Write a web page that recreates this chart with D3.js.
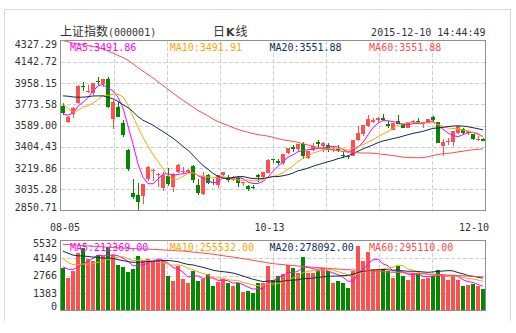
<!DOCTYPE html>
<html><head><meta charset="utf-8">
<script src="https://cdn.jsdelivr.net/npm/d3@7"></script>
<style>body{margin:0;background:#fff}svg{display:block}</style>
</head><body>
<svg id="c" width="516" height="333"></svg>
<script>
const dates=["08-05","08-06","08-07","08-10","08-11","08-12","08-13","08-14","08-17","08-18","08-19","08-20","08-21","08-24","08-25","08-26","08-27","08-28","08-31","09-01","09-02","09-07","09-08","09-09","09-10","09-11","09-14","09-15","09-16","09-17","09-18","09-21","09-22","09-23","09-24","09-25","09-28","09-29","09-30","10-08","10-09","10-12","10-13","10-14","10-15","10-16","10-19","10-20","10-21","10-22","10-23","10-26","10-27","10-28","10-29","10-30","11-02","11-03","11-04","11-05","11-06","11-09","11-10","11-11","11-12","11-13","11-16","11-17","11-18","11-19","11-20","11-23","11-24","11-25","11-26","11-27","11-30","12-01","12-02","12-03","12-04","12-07","12-08","12-09","12-10"];
const opens=[3756,3622,3688,3786,3929,3885,3869,3976,3946,3990,3646,3754,3609,3373,3004,2983,2978,3125,3203,3157,3045,3149,3054,3185,3190,3189,3237,3068,2998,3155,3100,3069,3162,3140,3114,3136,3086,3060,3056,3156,3139,3180,3296,3280,3260,3350,3400,3383,3426,3307,3377,3450,3413,3420,3380,3384,3337,3326,3325,3459,3514,3589,3617,3635,3656,3600,3554,3631,3605,3570,3620,3631,3602,3614,3659,3616,3412,3442,3450,3525,3558,3525,3518,3462,3469];
const highs=[3782,3672,3749,3943,3970,3940,3955,4006,3994,4006,3811,3790,3640,3388,3120,3092,3085,3233,3207,3180,3183,3217,3174,3256,3230,3207,3242,3124,3182,3172,3122,3160,3185,3163,3153,3151,3101,3074,3073,3166,3187,3296,3302,3300,3338,3393,3423,3425,3447,3370,3440,3460,3445,3433,3402,3419,3363,3337,3459,3585,3596,3678,3657,3659,3685,3626,3607,3678,3607,3618,3640,3654,3616,3648,3668,3621,3470,3483,3538,3585,3568,3543,3518,3495,3482];
const lows=[3683,3608,3656,3772,3891,3870,3855,3942,3920,3743,3558,3663,3491,3192,2952,2850.71,2906,3107,3109,3053,3019,3066,3011,3179,3175,3179,3093,2983,2983,3077,3074,3049,3153,3098,3106,3057,3065,3022,3039,3101,3124,3180,3265,3247,3250,3343,3360,3371,3295,3302,3370,3400,3355,3363,3358,3356,3311,3302,3322,3455,3497,3580,3611,3621,3629,3570,3552,3600,3563,3566,3601,3599,3565,3607,3629,3433,3327,3421,3407,3514,3513,3506,3465,3454,3451];
const closes=[3694.57,3661.54,3744.20,3928.42,3927.91,3886.32,3954.56,3965.33,3993.67,3748.16,3794.11,3664.29,3507.74,3209.91,2964.97,2927.29,3083.59,3232.35,3205.99,3166.62,3160.17,3080.42,3170.45,3243.09,3197.89,3200.23,3114.80,3005.17,3152.26,3086.06,3097.92,3156.54,3185.62,3115.89,3142.69,3092.35,3100.76,3038.14,3052.78,3143.36,3183.15,3287.66,3293.23,3262.44,3338.07,3391.35,3386.70,3425.33,3320.68,3368.74,3412.43,3429.58,3434.34,3375.20,3387.32,3382.56,3325.08,3316.70,3459.64,3522.82,3590.03,3646.88,3640.49,3650.25,3632.90,3580.84,3606.96,3604.80,3568.47,3617.06,3630.50,3610.31,3616.11,3647.93,3635.55,3436.30,3445.40,3456.31,3536.91,3584.82,3524.99,3536.93,3470.07,3472.44,3454.87];
// 59 closes before 08-05 (needed for the moving averages shown from the first day)
const priorCloses=[4375.76,4378.31,4308.69,4283.49,4417.55,4446.29,4529.42,4657.60,4813.80,4910.90,4941.71,4620.27,4611.74,4828.74,4910.53,4909.98,4947.10,5023.10,5131.88,5113.53,5106.04,5121.59,5166.35,5062.99,4887.43,4967.90,4785.36,4478.36,4576.49,4690.15,4527.78,4192.87,4053.03,4277.22,4053.70,3912.77,3686.92,3775.91,3727.12,3507.19,3709.33,3877.80,3970.39,3924.49,3805.70,3823.18,3957.35,3992.11,4017.67,4026.04,4123.92,4070.91,3725.56,3663.00,3789.17,3705.77,3663.73,3622.91,3756.54];
const volumes=[3367,2576,3161,4552,4947,4078,3951,4370,4291,5026,4370,3580,3422,3051,3288,4315,3999,4078,3896,3999,3975,2711,2339,3501,2497,2181,3161,2339,2450,2924,1920,2260,2497,2181,1920,2181,1446,1525,1367,2181,2181,3556,2395,2711,2892,3580,3367,2971,4212,2971,2971,3185,3367,3106,2181,2316,2181,1786,3106,5082,3896,4631,3319,3319,3280,3106,2576,3501,2766,2371,2971,2892,2497,2576,2766,3240,2711,2371,2766,2371,1920,1976,2055,1920,1707];
const priorVolumes=[5900,6100,5600,5300,4800,4900,5000,5200,5100,4900,5600,4900,4600,4400,4250,3510,3280,3520,3570];
const volMa60Idx=[0,6,12,18,24,30,36,42,48,54,60,66,72,78,84];
const volMa60=[5240,5080,4930,4830,4700,4450,4100,3700,3480,3300,3150,3020,2900,2780,2662];
const priceTicks=["4327.29","4142.72","3958.15","3773.58","3589.00","3404.43","3219.86","3035.28","2850.71"];
const volTicks=["5532","4149","2766","1383","0"];
const xLabelIdx=[0,42,84];
const priceLegend=["MA5:3491.86","MA10:3491.91","MA20:3551.88","MA60:3551.88"];
const volLegend=["MA5:212369.00","MA10:255532.00","MA20:278092.00","MA60:295110.00"];
const maPeriods=[5,10,20,60];
const maColors=["#ff00ff","#ffa500","#0d2f5a","#ff4d4d"];

const UP="#ff5050", DOWN="#008a00";
const MONO='"DejaVu Sans Mono", monospace';
const CJK='"Noto Sans CJK SC", sans-serif';
const svg=d3.select("#c");
const L=60.5,R=485.5,PT=40.5,PB=210.5,VT=240.5,VB=310.5;
const n=dates.length;
const x=d3.scaleBand().domain(d3.range(n)).range([L,R]);
const xc=i=>x(i)+x.bandwidth()/2-0.5;
const pMin=+priceTicks[priceTicks.length-1], pMax=+priceTicks[0];
const y=d3.scaleLinear().domain([pMin,pMax]).range([PB,PT]);
const vMax=+volTicks[0];
const yv=d3.scaleLinear().domain([0,vMax]).range([VB,VT]);

function movAvg(all,offset,p){return d3.range(n).map(i=>d3.mean(all.slice(offset+i-p+1,offset+i+1)));}
const allC=priorCloses.concat(closes);
const priceMAs=maPeriods.map(p=>movAvg(allC,priorCloses.length,p));
const allV=priorVolumes.concat(volumes);
const volMAs=[5,10,20].map(p=>movAvg(allV,priorVolumes.length,p).map((v,i)=>[i,v]));
volMAs.push(volMa60Idx.map((k,j)=>[k,volMa60[j]]));

// outer border
svg.append("path").attr("d","M4.5,321V9.5H510.5V321").attr("fill","none").attr("stroke","#d3dae4");

// header
const h=svg.append("text").attr("x",L-0.5).attr("y",35.5).attr("fill","#333");
h.append("tspan").attr("font-family",CJK).attr("font-size",12).text("上证指数");
h.append("tspan").attr("font-family",MONO).attr("font-size",10).text("(000001)");
const k=svg.append("text").attr("x",213).attr("y",35.5).attr("fill","#333");
k.append("tspan").attr("font-family",CJK).attr("font-size",12).text("日");
k.append("tspan").attr("font-family",'"DejaVu Sans", sans-serif').attr("font-weight","bold").attr("font-size",11).attr("dx",1).text("K");
k.append("tspan").attr("font-family",CJK).attr("font-size",12).attr("dx",1).text("线");
svg.append("text").attr("x",R).attr("y",35.5).attr("text-anchor","end").attr("font-family",MONO).attr("font-size",10).attr("fill","#333").text("2015-12-10 14:44:49");

// grids
const colStep=(R-L)/8;
function grid(top,bot,ys){
  const g=svg.append("g").attr("stroke","#d0d0d0").attr("stroke-dasharray","4,2").attr("shape-rendering","crispEdges");
  d3.range(1,8).forEach(j=>g.append("line").attr("x1",Math.round(L+j*colStep)+0.5).attr("x2",Math.round(L+j*colStep)+0.5).attr("y1",top).attr("y2",bot));
  ys.forEach(v=>g.append("line").attr("x1",L).attr("x2",R).attr("y1",Math.round(v)+0.5).attr("y2",Math.round(v)+0.5));
}
grid(PT,PB,priceTicks.slice(1,-1).map(t=>y(+t)));
grid(VT,VB,volTicks.slice(1,-1).map(t=>yv(+t)));

// candles
const cg=svg.append("g").attr("shape-rendering","crispEdges");
d3.range(n).forEach(i=>{
  const up=closes[i]>=opens[i], col=up?UP:DOWN;
  cg.append("line").attr("x1",xc(i)+0.5).attr("x2",xc(i)+0.5).attr("y1",y(highs[i])).attr("y2",y(lows[i])).attr("stroke",col);
  const t=y(Math.max(opens[i],closes[i])), b=y(Math.min(opens[i],closes[i]));
  cg.append("rect").attr("x",xc(i)-1.5).attr("width",4).attr("y",t).attr("height",Math.max(1,b-t)).attr("fill",col);
});
// volume bars
const vg=svg.append("g").attr("shape-rendering","crispEdges");
d3.range(n).forEach(i=>{
  const col=closes[i]>=opens[i]?UP:DOWN;
  vg.append("rect").attr("x",xc(i)-1.5).attr("width",4).attr("y",yv(volumes[i])).attr("height",yv(0)-yv(volumes[i])).attr("fill",col);
});

// MA lines
const line=d3.line().x((d,i)=>xc(i)+0.5).y(d=>y(d));
priceMAs.forEach((arr,j)=>svg.append("path").attr("d",line(arr)).attr("fill","none").attr("stroke",maColors[j]).attr("stroke-width",1));
const vline=d3.line().x(d=>xc(d[0])+0.5).y(d=>yv(d[1]));
svg.append("defs").append("clipPath").attr("id","vc").append("rect").attr("x",L).attr("y",VT).attr("width",R-L).attr("height",VB-VT);
volMAs.forEach((arr,j)=>svg.append("path").attr("d",vline(arr)).attr("clip-path","url(#vc)").attr("fill","none").attr("stroke",maColors[j]).attr("stroke-width",1));

// frames
svg.append("rect").attr("x",L).attr("y",PT).attr("width",R-L).attr("height",PB-PT).attr("fill","none").attr("stroke","#909090");
svg.append("rect").attr("x",L).attr("y",VT).attr("width",R-L).attr("height",VB-VT).attr("fill","none").attr("stroke","#909090");

// axis labels
priceTicks.forEach(t=>{
  const yy=Math.min(Math.max(y(+t),44),207);
  svg.append("text").attr("x",57).attr("y",yy+3.7).attr("text-anchor","end").attr("font-family",MONO).attr("font-size",10).attr("fill","#333").text(t);
});
volTicks.forEach(t=>{
  const yy=Math.min(Math.max(yv(+t),243.5),306.5);
  svg.append("text").attr("x",57).attr("y",yy+3.7).attr("text-anchor","end").attr("font-family",MONO).attr("font-size",10).attr("fill","#333").text(t);
});
const lx=d3.scaleLinear().domain([0,n-1]).range([65,474]);
xLabelIdx.forEach(i=>svg.append("text").attr("x",lx(i)).attr("y",230.5).attr("text-anchor","middle").attr("font-family",MONO).attr("font-size",10).attr("fill","#333").text(dates[i]));

// legends
const legX=j=>70+j*99.7;
priceLegend.forEach((t,j)=>svg.append("text").attr("x",legX(j)).attr("y",50.5).attr("font-family",MONO).attr("font-size",10).attr("fill",maColors[j]).text(t));
volLegend.forEach((t,j)=>svg.append("text").attr("x",legX(j)).attr("y",250.5).attr("font-family",MONO).attr("font-size",10).attr("fill",maColors[j]).text(t));
</script>
</body></html>
